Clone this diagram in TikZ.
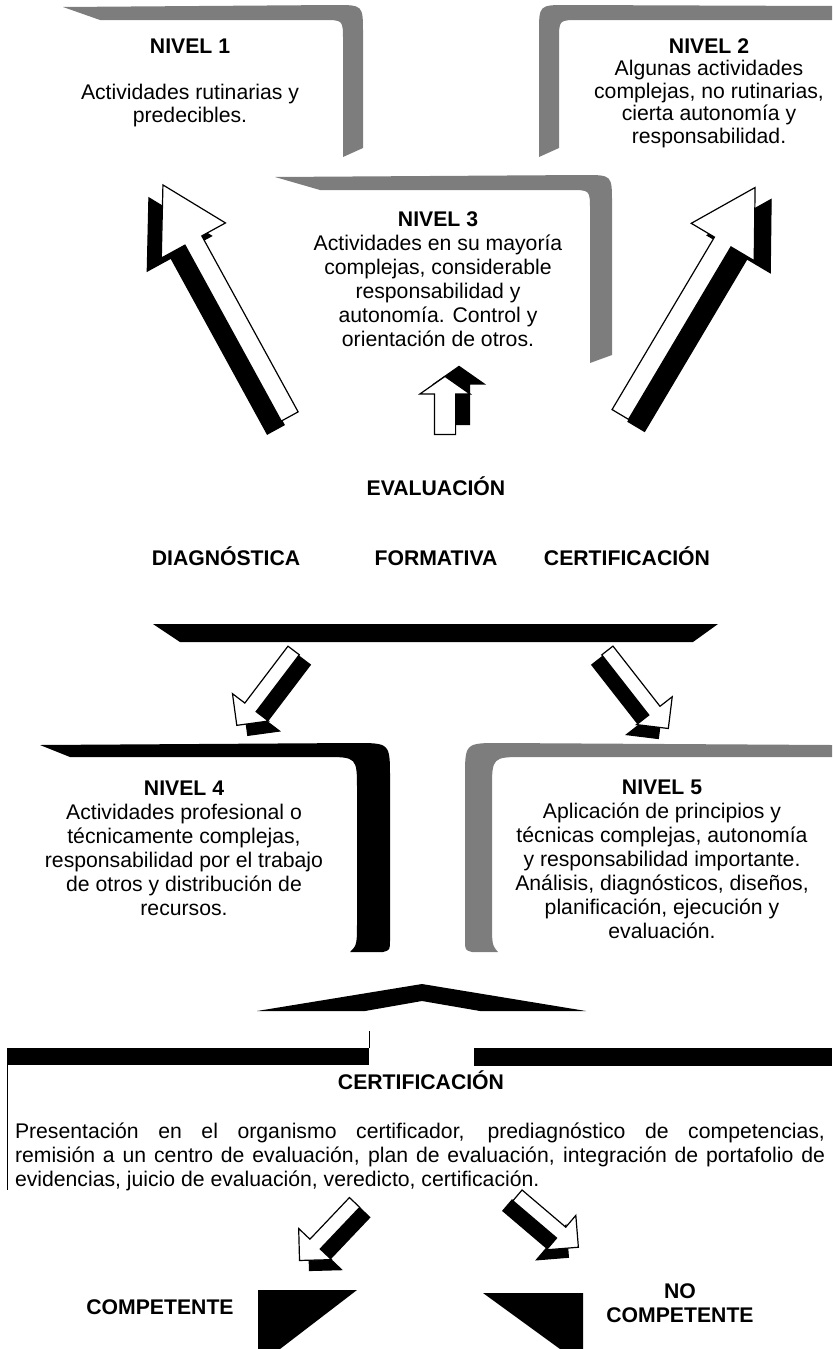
\documentclass[tikz,border=0pt]{standalone}
\usepackage{fontspec}
\setmainfont{Liberation Sans}
\usetikzlibrary{shapes.arrows,calc}
\definecolor{framegray}{RGB}{125,125,125}

\begin{document}
\begin{tikzpicture}[x=0.5pt,y=-0.5pt]

\tikzstyle{lvltext}=[align=center,inner sep=0pt,font=\fontsize{10.6pt}{12pt}\selectfont]
\tikzstyle{headtext}=[inner sep=0pt,text height=7.6pt,text depth=0pt,font=\fontsize{10.6pt}{12pt}\selectfont\bfseries]
\tikzstyle{bigarrow}=[single arrow,draw=black,fill=white,line width=0.6pt,inner xsep=0pt,inner ysep=4.5pt,minimum height=132pt,minimum width=36pt,single arrow head extend=13.5pt,single arrow tip angle=60]
\tikzstyle{bigshadow}=[bigarrow,fill=black]
\tikzstyle{smallarrow}=[single arrow,draw=black,fill=white,line width=0.6pt,inner xsep=0pt,inner ysep=3.25pt,minimum height=47pt,minimum width=22pt,single arrow head extend=7.75pt,single arrow tip angle=90]
\tikzstyle{smallshadow}=[smallarrow,fill=black]
\tikzstyle{uparrow}=[smallarrow,inner ysep=5pt,minimum height=29pt,minimum width=24.5pt,single arrow head extend=7.25pt,single arrow tip angle=110]
\tikzstyle{upshadow}=[uparrow,fill=black]

\useasboundingbox (0,0) rectangle (832,1349);

%FRAMES
%nivel 1
\fill[framegray] (63,7) -- (335,5) .. controls (363,5) .. (363,33) -- (363,148) -- (343,157) -- (343,40) .. controls (343,20) .. (323,20) -- (100,20) -- cycle;
%nivel 2
\fill[framegray] (832,6) -- (567,5) .. controls (539,5) .. (539,33) -- (539,157) -- (559,148) -- (559,40) .. controls (559,20) .. (579,20) -- (832,20) -- cycle;
%nivel 3
\fill[framegray] (275,177) -- (584,175) .. controls (612,175) .. (612,203) -- (612,355) -- (590,363) -- (590,210) .. controls (590,190) .. (570,190) -- (320,190) -- cycle;
%nivel 4
\fill[black] (40,745) -- (355,743) .. controls (390,743) .. (390,778) -- (390,940) .. controls (390,950) .. (383,952) -- (350,952) .. controls (357,945) .. (357,920) -- (357,790) .. controls (357,757) .. (324,757) -- (70,757) -- cycle;
%nivel 5
\fill[framegray] (832,745) -- (500,743) .. controls (465,743) .. (465,778) -- (465,940) .. controls (465,950) .. (472,952) -- (498,952) .. controls (492,945) .. (492,920) -- (492,790) .. controls (492,757) .. (525,757) -- (832,757) -- cycle;

%BARS
\fill (153,624) -- (718,624) -- (693,642) -- (180,642) -- cycle;
\fill (257,1011) -- (422,984) -- (586,1011) -- (480,1011) -- (422,1001) -- (365,1011) -- cycle;
\fill (7,1048) rectangle (369,1065);
\fill (474,1048) rectangle (832,1066);
\draw[line width=0.5pt] (369,1031) -- (369,1048);
\draw[line width=0.5pt] (7,1065) -- (7,1190);
%triangles
\fill (258,1290) -- (357,1290) -- (280,1349) -- (258,1349) -- cycle;
\fill (483,1293) -- (583,1293) -- (583,1349) -- (560,1349) -- cycle;

%ARROWS
%big
\node[bigshadow,rotate=118.7,anchor=tail] (upLs) at (276,430) {};
\node[bigarrow,rotate=118.7,anchor=tail] (upL) at (290,417) {};
\node[bigshadow,rotate=59.3,anchor=tail] (upRs) at (636,427) {};
\node[bigarrow,rotate=59.3,anchor=tail] (upR) at (620,415) {};
%up
\node[upshadow,rotate=90,anchor=tail] (upMs) at (459,425) {};
\node[uparrow,rotate=90,anchor=tail] (upM) at (445,435) {};
%down
\node[smallshadow,rotate=-127.2,anchor=tail] (downLs) at (305,660) {};
\node[smallarrow,rotate=-127.2,anchor=tail] (downL) at (294,650) {};
\node[smallshadow,rotate=-52,anchor=tail,minimum height=49.5pt] (downRs) at (597,660) {};
\node[smallarrow,rotate=-52,anchor=tail,minimum height=49.5pt] (downR) at (607,650) {};
\node[smallshadow,rotate=-133.5,anchor=tail,minimum height=40pt] (compLs) at (365,1212) {};
\node[smallarrow,rotate=-133.5,anchor=tail,minimum height=40pt] (compL) at (355,1202) {};
\node[smallshadow,rotate=-40.4,anchor=tail,minimum height=40pt] (compRs) at (507,1205) {};
\node[smallarrow,rotate=-40.4,anchor=tail,minimum height=40pt] (compR) at (517,1195) {};

%TEXT
\node[lvltext,font=\fontsize{10.6pt}{11.5pt}\selectfont] (lvlone) at (190,83) {\textbf{NIVEL 1}\\[11.5pt]Actividades rutinarias y\\predecibles.};
\node[lvltext,font=\fontsize{10.6pt}{11.25pt}\selectfont] (lvltwo) at (709,93) {\textbf{NIVEL 2}\\Algunas actividades\\complejas, no rutinarias,\\cierta autonomía y\\responsabilidad.};
\node[lvltext] (lvlthree) at (438,279) {\textbf{NIVEL 3}\\Actividades en su mayoría\\complejas, considerable\\responsabilidad y\\autonomía. Control y\\orientación de otros.};
\node[headtext] (evaluacion) at (436,488) {EVALUACIÓN};
\node[headtext] (diag) at (226,558) {DIAGNÓSTICA};
\node[headtext] (form) at (436,558) {FORMATIVA};
\node[headtext] (certif) at (627,558) {CERTIFICACIÓN};
\node[lvltext] (lvlfour) at (184,848) {\textbf{NIVEL 4}\\Actividades profesional o\\técnicamente complejas,\\responsabilidad por el trabajo\\de otros y distribución de\\recursos.};
\node[lvltext] (lvlfive) at (662,859) {\textbf{NIVEL 5}\\Aplicación de principios y\\técnicas complejas, autonomía\\y responsabilidad importante.\\Análisis, diagnósticos, diseños,\\planificación, ejecución y\\evaluación.};
\node[headtext] (certhead) at (421,1082) {CERTIFICACIÓN};
\node[align=justify,text width=405pt,inner sep=0pt,font=\fontsize{10.6pt}{12pt}\selectfont] (certtext) at (420,1157) {Presentación en el organismo certificador, prediagnóstico de competencias,\linebreak remisión a un centro de evaluación, plan de evaluación, integración de portafolio de\linebreak evidencias, juicio de evaluación, veredicto, certificación.};
\node[headtext] (comp) at (160,1307) {COMPETENTE};
\node[headtext,align=center,text height=,text depth=] (nocomp) at (680,1303) {NO\\COMPETENTE};

\end{tikzpicture}
\end{document}
